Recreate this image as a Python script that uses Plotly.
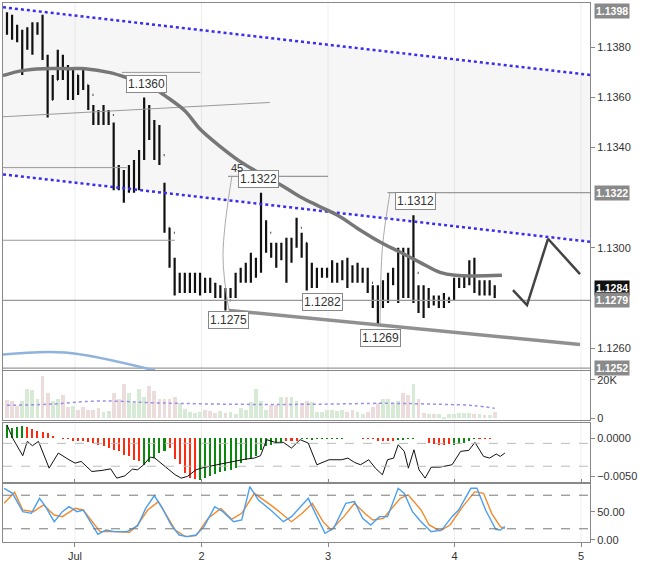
import plotly.graph_objects as go

# ---------------- data ----------------
T0, DT = 0.4625, 0.04016   # day position of bar 0 and bar spacing (hourly)
high = [1.1394,1.1393,1.1389,1.1387,1.1388,1.1390,1.1390,1.1393,1.1377,1.1369,1.1379,1.1377,1.1373,1.1371,1.1369,1.1372,1.1365,1.1357,1.1355,1.1357,
        1.1355,1.1350,1.1333,1.1331,1.1333,1.1335,1.1339,1.1360,1.1357,1.1351,1.1349,1.1326,1.1308,1.1296,1.1290,1.1290,1.1290,1.1290,1.1290,1.1288,
        1.1288,1.1286,1.1285,1.1284,1.1284,1.1290,1.1292,1.1294,1.1298,1.1296,1.1322,1.1311,1.1302,1.1302,1.1302,1.1304,1.1304,1.1312,1.1306,1.1302,
        1.1294,1.1292,1.1292,1.1292,1.1295,1.1294,1.1295,1.1296,1.1293,1.1294,1.1292,1.1292,1.1285,1.1285,1.1287,1.1290,1.1292,1.1300,1.1300,1.1300,
        1.1313,1.1285,1.1285,1.1284,1.1281,1.1281,1.1282,1.1280,1.1288,1.1288,1.1289,1.1295,1.1296,1.1287,1.1287,1.1287,1.1285]
low = [1.1385,1.1383,1.1382,1.1369,1.1379,1.1377,1.1385,1.1375,1.1352,1.1359,1.1367,1.1367,1.1359,1.1359,1.1361,1.1363,1.1355,1.1349,1.1349,1.1349,
       1.1349,1.1323,1.1323,1.1318,1.1322,1.1322,1.1323,1.1335,1.1343,1.1335,1.1333,1.1306,1.1292,1.1281,1.1282,1.1282,1.1282,1.1282,1.1281,1.1282,
       1.1282,1.1280,1.1280,1.1275,1.1280,1.1280,1.1286,1.1286,1.1286,1.1288,1.1290,1.1298,1.1296,1.1292,1.1295,1.1286,1.1294,1.1300,1.1296,1.1283,
       1.1284,1.1284,1.1288,1.1288,1.1286,1.1286,1.1287,1.1284,1.1286,1.1286,1.1286,1.1282,1.1276,1.1269,1.1276,1.1278,1.1285,1.1278,1.1280,1.1280,
       1.1278,1.1274,1.1272,1.1276,1.1277,1.1276,1.1276,1.1278,1.1279,1.1284,1.1284,1.1285,1.1282,1.1281,1.1281,1.1281,1.1280]
close = [1.1387,1.1385,1.1383,1.1383,1.1386,1.1387,1.1387,1.1376,1.1359,1.1367,1.1373,1.1371,1.1365,1.1369,1.1367,1.1365,1.1361,1.1354,1.1353,1.1353,
         1.1353,1.1331,1.1327,1.1325,1.1327,1.1331,1.1337,1.1351,1.1347,1.1343,1.1337,1.1308,1.1306,1.1286,1.1286,1.1286,1.1286,1.1286,1.1286,1.1285,
         1.1284,1.1282,1.1282,1.1279,1.1282,1.1288,1.1290,1.1290,1.1294,1.1294,1.1306,1.1306,1.1300,1.1298,1.1300,1.1298,1.1302,1.1308,1.1302,1.1290,
         1.1290,1.1290,1.1290,1.1290,1.1290,1.1291,1.1293,1.1290,1.1288,1.1290,1.1290,1.1286,1.1282,1.1278,1.1282,1.1286,1.1290,1.1296,1.1294,1.1290,
         1.1290,1.1280,1.1278,1.1280,1.1279,1.1279,1.1280,1.1280,1.1286,1.1286,1.1287,1.1292,1.1284,1.1284,1.1283,1.1284,1.1283]
first_open = 1.1390

ma_days = [0.431,0.581,0.747,0.960,1.079,1.277,1.435,1.593,1.711,1.870,1.988,2.146,2.304,2.462,2.621,2.779,2.937,3.095,3.253,3.411,3.569,3.727,3.885,4.004,4.375]
ma_vals = [1.13687,1.13707,1.13715,1.13715,1.13715,1.13699,1.13675,1.13647,1.13607,1.13546,1.13474,1.13405,1.13345,1.13297,1.13253,1.13204,1.13164,1.13124,1.13071,1.13023,1.12983,1.12942,1.12902,1.12890,1.12890]

volume_k = [9.5,9,6.4,9,15,14.6,10,22,13,9, 10,12,6,6.5,4.5,6,4,4,5.5,3, 3.5,13,10,18,13,8,15,11,17,14,
            10,10,10,11,8,5,3,2.5,3,4, 3.5,2.5,3.5,2.5,3,2,5.5,4,8.5,15, 9,4,7,7,11,11,11,9,8,9,
            8.5,3,3,4,4,3.5,4,3,4,3, 2,3,6,8,10,10,8,9,13,12, 18,10,2.5,2,2,2,0.5,2,2,2.5, 2.5,2.5,2,2,1.5,1.5,3]
vol_ma_idx = [0,8,18,30,45,60,75,85,92,96]
vol_ma_k = [6.8,7.3,9,8,7.3,7.3,7.8,7.3,6.6,5.2]

hist = [17.1,12.7,14.9,15.8,14.9,11.4,9.6,8.3,6.1,3.1, 0,-0.5,-0.5,-3.5,-3.5,-3.9,-4.8,-6.6,-8.8,-11,
        -13.2,-15.4,-17.5,-21.9,-24.1,-28.5,-30.7,-35.1,-32,-26.3, -19.7,-17.5,-13.2,-27.6,-33.8,-46.1,-52.6,-53.9,-54.8,-52.6,
        -49.6,-47,-43.9,-43,-41.7,-39.5,-32.9,-29.4,-26.3,-23.2, -15.4,-11,-8.8,-7.5,-5.7,-4.4,-4.4,-3.5,-0.9,-0.9,
        -2,-0.9,-0.9,-0.9,-0.9,-0.9,-0.9,0,0,0, -1,-1,-1,-4.4,-4.4,-4.4,-4.4,-3,-2,-1,
        -1,0,0,-6.6,-7.5,-8.8,-8.8,-7.5,-8.8,-7.5, -6,-4.4,-0.5,-0.5,-0.5,-0.5,0]
hist_dir = "ggggrrrrrr" + "rrrrrrrrrr" + "rrrrrrrggg" + "ggrrrrrrgg" + "gggggggggg" + "gggggrrrgg" + "gggggggggg" + "rrrrrrrggg" + "gggrrrrrgg" + "gggrrrrr"

macd_idx = [0,1.1,3.1,4.0,5.0,6.2,8.3,10.1,12.2,13.4,14.6,16.7,18.7,20.4,21.6,23.2,24.7,25.7,26.9,28.2,29.1,31,33.1,34.3,35.5,37.2,38.8,41.3,44.6,47,
            48.7,49.9,51.1,52.8,54.4,56,57.7,59.3,61,63.4,65.9,67.1,68.4,69.6,71.2,72.5,73.9,74.9,76.1,77,78.2,79,80.1,81.1,82.3,83.5,85.2,87.6,89.3,90.9,
            92.1,93.8,95,96.3,97.1,98]
macd_line = [17.1,0,-23.2,-4.4,-10.1,-4.4,-39.5,-19.7,-28.5,-32.9,-30.7,-43.9,-42.5,-40.4,-52.6,-49.6,-40.8,-41.7,-35.1,-25,-26.3,-37.3,-48.2,-52.6,-50.4,-41.7,-38.6,-35.1,-30.7,-27.6,
             -26.3,-23.2,-2.2,-5.7,-5.7,-13.2,-2.2,-6.6,-35.1,-28.5,-28.5,-26.3,-32,-35.1,-28.5,-39.5,-48.2,-28.5,-26.3,-8.8,-17.5,-39.5,-15.4,-41.7,-52.6,-38.2,-38.2,-35.1,-17.5,-16.2,
             -5.7,-24.1,-26.3,-21,-24.1,-19.7]

k_idx = [-0.56,1.1,3.1,4.8,6.4,7.6,9.3,10.9,12.2,13.8,15,17.9,19.5,21.2,23.6,25.7,27.3,29,30.6,32.3,33.9,35.5,37.2,38.8,40.9,42.5,44.6,46.2,47.8,49.5,
         51.9,54.4,56,59.3,61,62.6,64.3,66.7,68.4,70,71.6,73.3,74.9,77,78.2,79.8,81.5,83.5,85.6,87.6,88.9,91.3,92.5,94.2,96.2,97.1,98]
k_vals = [92.3,83.3,50.6,47.6,74.4,59.5,32.7,50.6,59.5,50.6,53.6,10.1,17.9,14.9,14.9,25,56.5,79.2,56.5,26.8,8.9,6,8.9,23.8,59.5,50.6,32.7,35.7,95.2,71.4,
          53.6,32.7,41.7,74.4,41.7,11.9,20.8,65.5,68.5,38.7,26.8,41.7,41.7,92.3,83.3,50.6,32.7,14.9,17.9,41.7,53.6,92.3,92.3,53.6,19,17.9,23.8]
d_idx = [-0.56,1.5,3.1,5.2,7.2,9.3,10.9,13.4,15,18.3,20.8,24.1,25.7,27.7,29.8,31.4,33.1,35.1,37.2,39.6,42.1,44.2,46.2,48.7,51.1,52.8,56,58.1,60.1,62.2,
         63.8,66.3,68.4,70.4,72,74.1,77.4,79,81.5,83.1,85.2,87.2,89.7,92.1,93.8,95.4,97.1,98]
d_vals = [65.5,85.1,53.6,50.6,62.5,44.6,41.7,56.5,53.6,14.9,14.9,13.7,26.8,53.6,68.5,44.6,17.9,6,7.7,38.7,56.5,36.9,47.6,83.3,68.5,56.5,32.7,47.6,65.5,32.7,
          17.9,41.7,65.5,47.6,35.7,38.7,74.4,80.4,53.6,26.8,16.1,26.8,59.5,86.3,83.3,47.6,23.8,20.8]

day_ticks = [1, 2, 3, 4, 5]
day_labels = ["Jul", "2", "3", "4", "5"]
price_ticks = [1.1260, 1.1300, 1.1340, 1.1360, 1.1380]

channel_x = [0.431, 5.071]
channel_upper = [1.13960, 1.13690]
channel_lower = [1.13293, 1.13024]
support_x = [2.217, 4.992]
support_y = [1.12750, 1.12614]
proj_x = [4.462, 4.573, 4.739, 4.992]
proj_y = [1.12831, 1.12771, 1.13036, 1.12895]
blue_x = [0.431, 0.921, 1.632]
blue_y = [1.12574, 1.12582, 1.12510]

point_labels = [("1.1360", 1.569, 1.13655), ("1.1322", 2.447, 1.13273), ("1.1275", 2.217, 1.12711),
                ("1.1282", 2.953, 1.12783), ("1.1269", 3.411, 1.12638), ("1.1312", 3.688, 1.13185)]
axis_boxes = [("1.1398", 1.13945, "#8a8a8a"), ("1.1322", 1.1322, "#8a8a8a"), ("1.1284", 1.1284, "#111111"),
              ("1.1279", 1.1279, "#8a8a8a"), ("1.1252", 1.1252, "#8a8a8a")]

# ---------------- figure ----------------
n = len(close)
xs = [T0 + i * DT for i in range(n)]
opens = [first_open] + close[:-1]
tox = lambda idx: [T0 + i * DT for i in idx]

fig = go.Figure()
XR = [0.431, 5.071]

fig.add_trace(go.Scatter(x=channel_x, y=channel_upper, mode="lines", line=dict(color="rgba(0,0,0,0)"), xaxis="x", yaxis="y"))
fig.add_trace(go.Scatter(x=channel_x, y=channel_lower, mode="lines", fill="tonexty", fillcolor="rgba(0,0,0,0.035)",
                         line=dict(color="rgba(0,0,0,0)"), xaxis="x", yaxis="y"))
for yy in (channel_upper, channel_lower):
    fig.add_trace(go.Scatter(x=channel_x, y=yy, mode="lines", line=dict(color="#3a2df0", width=2.5, dash="dot"), xaxis="x", yaxis="y"))

segs = [([0.431, 5.071], [1.1279, 1.1279], "#999", 1.2), ([0.431, 5.071], [1.1252, 1.1252], "#999", 1.2),
        ([3.47, 5.071], [1.1322, 1.1322], "#999", 1.2), ([2.21, 3.0], [1.13285, 1.13285], "#999", 1.2),
        ([0.431, 1.79], [1.1303, 1.1303], "#999", 1.2), ([0.431, 1.41], [1.1332, 1.1332], "#999", 1.0),
        ([0.431, 2.54], [1.13523, 1.13580], "#999", 1.0), ([1.37, 1.99], [1.1370, 1.1370], "#999", 1.0),
        ([2.217, 2.17, 2.24], [1.1275, 1.1297, 1.13285], "#aaa", 1.0),
        ([3.411, 3.43, 3.49], [1.1269, 1.1300, 1.1322], "#aaa", 1.0)]
for sx, sy, c, w in segs:
    fig.add_trace(go.Scatter(x=sx, y=sy, mode="lines", line=dict(color=c, width=w, shape="spline"), xaxis="x", yaxis="y"))

fig.add_trace(go.Scatter(x=blue_x, y=blue_y, mode="lines", line=dict(color="#8fb3dd", width=2.5, shape="spline"), xaxis="x", yaxis="y"))
fig.add_trace(go.Scatter(x=ma_days, y=ma_vals, mode="lines", line=dict(color="#777", width=3.5, shape="spline"), xaxis="x", yaxis="y"))
fig.add_trace(go.Scatter(x=support_x, y=support_y, mode="lines", line=dict(color="#909090", width=3.5), xaxis="x", yaxis="y"))
fig.add_trace(go.Scatter(x=proj_x, y=proj_y, mode="lines", line=dict(color="#444", width=2.5), xaxis="x", yaxis="y"))

fig.add_trace(go.Ohlc(x=xs, open=opens, high=high, low=low, close=close, tickwidth=0.15,
                      increasing=dict(line=dict(color="#111", width=2.2)),
                      decreasing=dict(line=dict(color="#111", width=2.2)), xaxis="x", yaxis="y"))

vcol = ["#d6ead6" if close[i] >= opens[i] else "#ecdcdc" for i in range(n)]
fig.add_trace(go.Bar(x=xs, y=volume_k, marker=dict(color=vcol, line=dict(width=0)), width=DT * 0.75, xaxis="x", yaxis="y2"))
fig.add_trace(go.Scatter(x=tox(vol_ma_idx), y=vol_ma_k, mode="lines", line=dict(color="#9a8fe8", width=1.5, dash="dot", shape="spline"),
                         xaxis="x", yaxis="y2"))

hcol = ["#0a8a0a" if c == "g" else "#ff2a10" for c in hist_dir[:n]]
fig.add_trace(go.Bar(x=xs, y=[h / 10000 for h in hist], marker=dict(color=hcol, line=dict(width=0)), width=DT * 0.4, xaxis="x", yaxis="y3"))
fig.add_trace(go.Scatter(x=tox(macd_idx), y=[v / 10000 for v in macd_line], mode="lines", line=dict(color="#111", width=1), xaxis="x", yaxis="y3"))

fig.add_trace(go.Scatter(x=tox(d_idx), y=d_vals, mode="lines", line=dict(color="#f28a2e", width=1.4), xaxis="x", yaxis="y4"))
fig.add_trace(go.Scatter(x=tox(k_idx), y=k_vals, mode="lines", line=dict(color="#4a9ff0", width=1.4), xaxis="x", yaxis="y4"))

shapes = []
for yref, yv in (("y3", -0.0007), ("y3", -0.0037), ("y4", 80), ("y4", 20)):
    shapes.append(dict(type="line", xref="x", yref=yref, x0=XR[0], x1=XR[1], y0=yv, y1=yv,
                       line=dict(color="#777" if yref == "y4" else "#bbb", width=1, dash="dash")))
for d in day_ticks:
    shapes.append(dict(type="line", xref="x", yref="paper", x0=d, x1=d, y0=0, y1=1, line=dict(color="#eeeeee", width=1), layer="below"))

ann = []
for txt, xv, yv in point_labels:
    ann.append(dict(x=xv, y=yv, xref="x", yref="y", text=txt, showarrow=False, bgcolor="white", bordercolor="#888",
                    borderwidth=1, borderpad=1, font=dict(size=12, color="#333", family="Arial")))
ann.append(dict(x=2.281, y=1.13318, xref="x", yref="y", text="45", showarrow=False, font=dict(size=11, color="#333", family="Arial")))
for txt, yv, c in axis_boxes:
    ann.append(dict(x=1.0, y=yv, xref="paper", yref="y", text="<b>" + txt + "</b>", showarrow=False, xanchor="left", xshift=4,
                    bgcolor=c, font=dict(size=10.5, color="white", family="Arial"), borderpad=1))

ax_common = dict(showgrid=False, zeroline=False, showline=True, linecolor="#888", mirror=True, side="right",
                 tickfont=dict(size=11, color="#333", family="Arial"), ticks="outside", ticklen=4, tickcolor="#888")
fig.update_layout(
    width=649, height=572, margin=dict(l=3, r=59, t=3, b=30, autoexpand=False), paper_bgcolor="white", plot_bgcolor="white",
    showlegend=False, bargap=0,
    xaxis=dict(range=XR, domain=[0, 1], anchor="y4", tickvals=day_ticks, ticktext=day_labels, showgrid=False, zeroline=False,
               showline=True, linecolor="#888", mirror="all", ticks="outside", ticklen=4, tickcolor="#888",
               tickfont=dict(size=11, color="#333", family="Arial"), rangeslider=dict(visible=False)),
    yaxis=dict(ax_common, domain=[0.319, 1], range=[1.12512, 1.13977], tickvals=price_ticks, tickformat=".4f"),
    yaxis2=dict(ax_common, domain=[0.226, 0.317], range=[-1.0, 24.6], tickvals=[0, 20], ticktext=["0", "20K"]),
    yaxis3=dict(ax_common, domain=[0.111, 0.2208], range=[-0.00579, 0.00197], tickvals=[0, -0.005], ticktext=["0.0000", "−0.0050"]),
    yaxis4=dict(ax_common, domain=[0, 0.1076], range=[-3.6, 100], tickvals=[0, 50], ticktext=["0.00", "50.00"]),
    shapes=shapes, annotations=ann,
)
fig.update_traces(selector=dict(type="scatter"), hoverinfo="skip")
fig.write_html("out.html", config={"displayModeBar": False}, post_script="document.body.style.margin='0px';")
